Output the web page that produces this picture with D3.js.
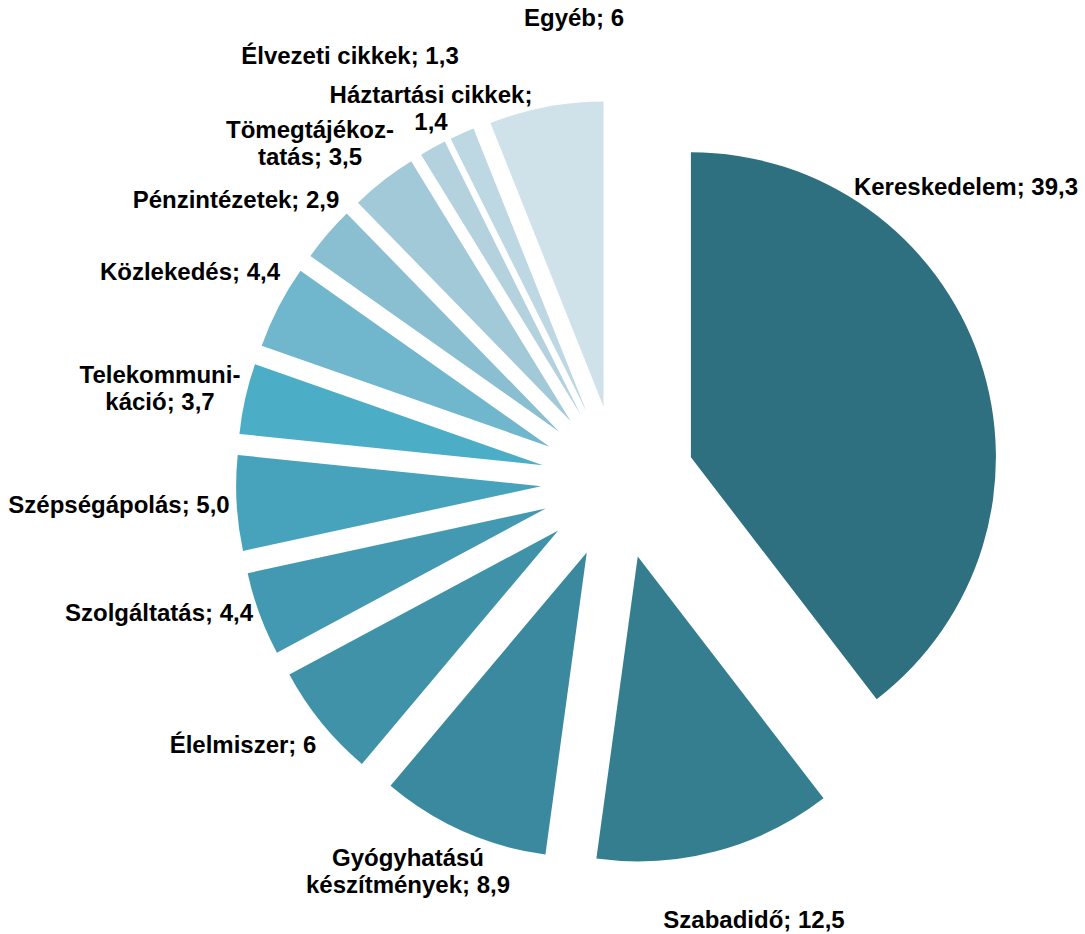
<!DOCTYPE html>
<html>
<head>
<meta charset="utf-8">
<script src="https://cdn.jsdelivr.net/npm/d3@7"></script>
<style>
  html, body { margin: 0; padding: 0; background: #fff; }
  svg { display: block; }
  text { font-family: "Liberation Sans", Arial, sans-serif; font-weight: bold; fill: #000; }
</style>
</head>
<body>
<svg id="chart" width="1085" height="934"></svg>
<script>
// Sector shares (%) in drawing order, clockwise from 12 o'clock
const categories = [
  "Kereskedelem", "Szabadidő", "Gyógyhatású készítmények", "Élelmiszer",
  "Szolgáltatás", "Szépségápolás", "Telekommunikáció", "Közlekedés",
  "Pénzintézetek", "Tömegtájékoztatás", "Háztartási cikkek", "Élvezeti cikkek", "Egyéb"
];
const values = [39.3, 12.5, 8.9, 6, 4.4, 5.0, 3.7, 4.4, 2.9, 3.5, 1.4, 1.3, 6];
const valueLabels = ["39,3", "12,5", "8,9", "6", "4,4", "5,0", "3,7", "4,4", "2,9", "3,5", "1,4", "1,3", "6"];

// Label text split into lines (hyphenation as printed)
const labelLines = [
  ["Kereskedelem; 39,3"],
  ["Szabadidő; 12,5"],
  ["Gyógyhatású", "készítmények; 8,9"],
  ["Élelmiszer; 6"],
  ["Szolgáltatás; 4,4"],
  ["Szépségápolás; 5,0"],
  ["Telekommuni-", "káció; 3,7"],
  ["Közlekedés; 4,4"],
  ["Pénzintézetek; 2,9"],
  ["Tömegtájékoz-", "tatás; 3,5"],
  ["Háztartási cikkek;", "1,4"],
  ["Élvezeti cikkek; 1,3"],
  ["Egyéb; 6"]
];

// Slice colours, dark teal to pale blue
const colors = [
  "#2E6F80", "#357E90", "#3A899E", "#4092A8", "#4399B1", "#47A3BC", "#4BADC6",
  "#70B6CC", "#8ABED1", "#A2C9D8", "#B3D2DE", "#BDD8E2", "#CFE2EA"
];

// Layout
const center = [618, 482];
const radius = 305;
const explode = 77;
const fontSize = 24;
const lineHeight = 27;
// label block centres (x, y of first line centre)
const labelPos = [
  [966, 187], [754, 920], [408, 858], [243, 745], [159, 613], [119, 505],
  [160, 375], [190, 272], [236, 200], [310, 130], [431, 95], [350, 56], [574, 18]
];

const svg = d3.select("#chart");
const g = svg.append("g").attr("transform", `translate(${center[0]},${center[1]})`);

const pie = d3.pie().sort(null).startAngle(0).endAngle(2 * Math.PI);
const arcs = pie(values);
const arc = d3.arc().innerRadius(0).outerRadius(radius);

g.selectAll("path.slice")
  .data(arcs)
  .join("path")
  .attr("class", "slice")
  .attr("d", arc)
  .attr("fill", (d, i) => colors[i])
  .attr("transform", d => {
    const a = (d.startAngle + d.endAngle) / 2;
    return `translate(${explode * Math.sin(a)},${-explode * Math.cos(a)})`;
  });

const labels = svg.selectAll("text.lbl")
  .data(labelLines)
  .join("text")
  .attr("class", "lbl")
  .attr("text-anchor", "middle")
  .attr("font-size", fontSize)
  .attr("x", (d, i) => labelPos[i][0])
  .attr("y", (d, i) => labelPos[i][1]);

labels.selectAll("tspan")
  .data((d, i) => d.map(line => ({ line, i })))
  .join("tspan")
  .attr("x", d => labelPos[d.i][0])
  .attr("dy", (d, j) => j === 0 ? "0.35em" : lineHeight)
  .text(d => d.line);
</script>
</body>
</html>
